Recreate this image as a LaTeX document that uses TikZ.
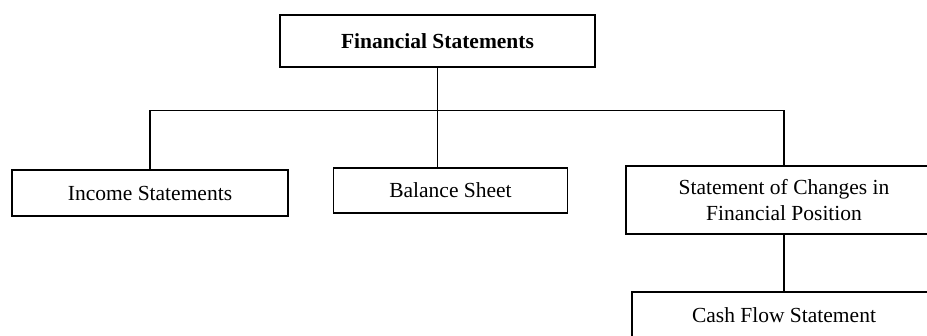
\documentclass[tikz,border=0pt]{standalone}
\usepackage{fontspec}
\setmainfont{Liberation Serif}
\usetikzlibrary{positioning,calc}

\begin{document}
\begin{tikzpicture}[
    x=1pt, y=-1pt,
    box/.style={rectangle, draw, line width=1.5pt, inner sep=0pt, align=center,
                font=\fontsize{21.5}{26}\selectfont},
    link/.style={line width=1.5pt}
]
\useasboundingbox (0,0) rectangle (927,335);
\clip (0,0) rectangle (927,335);

% Statements (boxes)
\node[box, minimum width=315, minimum height=52, font=\fontsize{21.5}{26}\selectfont\bfseries]
    (fin) at (437.5,41) {Financial Statements};
\node[box, minimum width=276, minimum height=46] (inc) at (150,193) {Income Statements};
\node[box, minimum width=234, minimum height=45] (bal) at (450.5,190.5) {Balance Sheet};
\node[box, minimum width=316, minimum height=68] (scfp) at (784,200)
    {Statement of Changes in\\Financial Position};
\node[box, minimum width=304, minimum height=46] (cfs) at (784,315) {Cash Flow Statement};

% Tree lines
\coordinate (bus) at (437.5,110.5);
\draw[link] (fin.south) -- (fin.south |- bal.north);
\draw[link] (inc.north) |- (bus) -| (scfp.north);
\draw[link] (scfp.south) -- (cfs.north);

\end{tikzpicture}
\end{document}
